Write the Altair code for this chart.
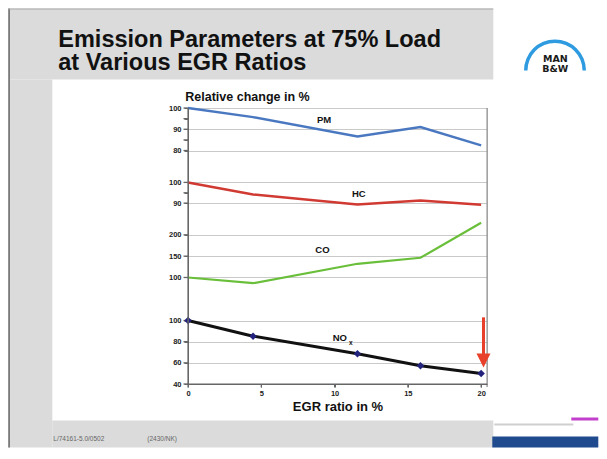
import altair as alt
import pandas as pd

FONT = "Liberation Sans"

# ---- data ----
egr = [0, 4.44, 11.56, 15.86, 20]
pm = [100, 95.7, 86.6, 91.0, 82.4]
hc = [100, 94.2, 89.3, 91.3, 89.2]
co = [100, 86.6, 132.1, 146.1, 228.1]
nox = [100, 85.2, 68.6, 57.2, 49.9]

pm_ticks = [100, 95, 90, 85, 80]
hc_ticks = [100, 95, 90]
co_ticks = [200, 150, 100]
nox_ticks = [100, 80, 60, 40]
x_ticks = [0, 5, 10, 15, 20]

series_labels = ["PM", "HC", "CO", "NO"]
label_x = [9.28, 11.65, 9.17, 10.36]
label_v = [94.4, 94.2, 164.9, 83.3]
sub_label = "x"
sub_x = 11.11
sub_v = 78.3

arrow_x = 20.16
arrow_top = 103
arrow_base = 66
arrow_head = 62.2

# ---- layout helpers (page pixel -> plot pixel) ----
OX, OY = 187.7, 107.5
W, H = 299, 276
AXIS_COLOR = "#666"


def px(v):
    return v - OX


def py(v):
    return v - OY


one = pd.DataFrame({"k": [0]})


def box(x1, x2, y1, y2, color):
    return alt.Chart(one).mark_rect(color=color).encode(
        x=alt.value(px(x1)), x2=alt.value(px(x2)),
        y=alt.value(py(y1)), y2=alt.value(py(y2)))


def pbox(x1, x2, y1, y2, color):
    # box given in plot pixel coordinates
    return alt.Chart(one).mark_rect(color=color).encode(
        x=alt.value(x1), x2=alt.value(x2), y=alt.value(y1), y2=alt.value(y2))


def note(text, x, y, size, color="#111", weight="bold", align="left",
         baseline="alphabetic", font=FONT):
    return alt.Chart(one).mark_text(
        text=text, fontSize=size, color=color, fontWeight=weight,
        align=align, baseline=baseline, font=font).encode(
        x=alt.value(px(x)), y=alt.value(py(y)))


x_axis = alt.Axis(values=x_ticks, title="EGR ratio in %", titleFontSize=13,
                  titleFontWeight="bold", titleColor="#111", titlePadding=4,
                  titleFont=FONT, labelFont=FONT,
                  labelFontSize=7.5, labelFontWeight="bold", labelColor="#222",
                  labelFlush=False, labelPadding=2, ticks=True, tickSize=3,
                  tickColor=AXIS_COLOR, tickWidth=1,
                  domain=True, domainColor=AXIS_COLOR, domainWidth=1,
                  grid=False, zindex=1)
X = alt.X("x:Q", scale=alt.Scale(domain=[0, 20.4], nice=False, zero=False),
          axis=x_axis)


def yaxis(ticks):
    return alt.Axis(
        orient="left", values=ticks, title=None, grid=True,
        gridColor="#c9c9c9", gridWidth=1,
        gridOpacity={"condition": {"test": "datum.value % 10 !== 0", "value": 0}, "value": 1},
        labelExpr="datum.value % 10 === 0 ? datum.label : ''",
        domain=True, domainColor=AXIS_COLOR, domainWidth=1,
        ticks=True, tickColor=AXIS_COLOR, tickSize=4, tickWidth=1,
        labelFont=FONT, labelFontSize=7.5, labelFontWeight="bold",
        labelColor="#222", labelPadding=3, labelFlush=False, labelOverlap=False)


def tick_marks(ticks, Y):
    return alt.Chart(pd.DataFrame({"v": ticks})).mark_rect(
        color=AXIS_COLOR, height=1.3).encode(x=alt.value(-4.5), x2=alt.value(0.5), y=Y)


def series(vals, color, width, domain, rng, ticks, idx):
    df = pd.DataFrame({"x": egr, "v": vals})
    Y = alt.Y("v:Q", scale=alt.Scale(domain=domain, range=rng, nice=False, zero=False),
              axis=yaxis(ticks))
    line = alt.Chart(df).mark_line(color=color, strokeWidth=width).encode(x=X, y=Y)
    lab = pd.DataFrame({"x": [label_x[idx]], "v": [label_v[idx]], "t": [series_labels[idx]]})
    txt = alt.Chart(lab).mark_text(fontSize=9.5, fontWeight="bold", color="#111",
                                   font=FONT).encode(x=X, y=Y, text="t:N")
    return alt.layer(tick_marks(ticks, Y), line, txt)


pm_layer = series(pm, "#4a78c0", 2.5, [72, 100], [59.5, 0], pm_ticks, 0)
hc_layer = series(hc, "#d03a32", 2.5, [84.5, 107.2], [106.5, 59.5], hc_ticks, 1)
co_layer = series(co, "#6abf3a", 2.2, [50.8, 247.5], [190.5, 106.5], co_ticks, 2)

# NOx with markers, subscript and arrow
nox_df = pd.DataFrame({"x": egr, "v": nox})
YN = alt.Y("v:Q", scale=alt.Scale(domain=[40, 120.8], range=[276, 190.5], nice=False, zero=False),
           axis=yaxis(nox_ticks))
nox_line = alt.Chart(nox_df).mark_line(color="#111", strokeWidth=3).encode(x=X, y=YN)
nox_pts = alt.Chart(nox_df).mark_point(shape="diamond", filled=True, size=55,
                                       color="#23237e", opacity=1).encode(x=X, y=YN)
nox_lab = alt.Chart(pd.DataFrame({"x": [label_x[3]], "v": [label_v[3]], "t": [series_labels[3]]})).mark_text(
    fontSize=9.5, fontWeight="bold", color="#111", font=FONT).encode(x=X, y=YN, text="t:N")
nox_sub = alt.Chart(pd.DataFrame({"x": [sub_x], "v": [sub_v], "t": [sub_label]})).mark_text(
    fontSize=6.5, fontWeight="bold", color="#111", font=FONT).encode(x=X, y=YN, text="t:N")
arrow_shaft = alt.Chart(pd.DataFrame({"x": [arrow_x], "v": [arrow_top], "v2": [arrow_base]})).mark_rule(
    color="#e8402a", strokeWidth=3).encode(x=X, y=YN, y2="v2:Q")
arrow_tip = alt.Chart(pd.DataFrame({"x": [arrow_x], "v": [arrow_head]})).mark_point(
    shape="M-1,-1L1,-1L0,1Z", filled=True, size=196, color="#e8402a", opacity=1).encode(x=X, y=YN)
nox_layer = alt.layer(tick_marks(nox_ticks, YN), nox_line, arrow_shaft, arrow_tip,
                      nox_pts, nox_lab, nox_sub)

# x-axis ticks and axis lines
x_tick_marks = alt.Chart(pd.DataFrame({"x": x_ticks})).mark_rect(
    color=AXIS_COLOR, width=1.2).encode(x=X, y=alt.value(H), y2=alt.value(H + 3.5))
y_axis_line = pbox(-0.6, 0.8, 0.01, H, AXIS_COLOR)
x_axis_line = pbox(-0.6, W, H - 0.6, H + 0.6, AXIS_COLOR)
right_border = pbox(W - 0.5, W + 0.7, 0.01, H + 3, "#8a8a8a")

# ---- slide decorations ----
decor = [
    box(8, 493, 8, 79, "#dbdbdb"),
    box(8, 52, 79, 447, "#dbdbdb"),
    box(52, 493, 420, 447, "#dbdbdb"),
    box(8, 9.6, 8, 447, "#707070"),
    box(8, 493, 8, 9, "#a8a8a8"),
    box(492, 598, 436, 447, "#1f4b8e"),
    box(494, 573, 423, 425, "#cfcfcf"),
    box(571, 598, 417, 420, "#c23fcc"),
]

logo_arc = alt.Chart(one).mark_arc(theta=4.71, theta2=7.85, radius=31, radius2=27.5,
                                   color="#2e9be0").encode(
    x=alt.value(px(554.7)), y=alt.value(py(70)))

texts = [
    note("Emission Parameters at 75% Load", 58, 46, 23.5),
    note("at Various EGR Ratios", 58, 69, 23.5),
    note("Relative change in %", 185, 100, 12.5),
    note("MAN", 555, 58, 9.5, color="#1a1a1a", align="center", baseline="middle", font="DejaVu Sans"),
    note("B&W", 555, 68, 9.5, color="#1a1a1a", align="center", baseline="middle", font="DejaVu Sans"),
    note("L/74161-5.0/0502", 53, 438, 6.5, color="#666", weight="normal", baseline="middle"),
    note("(2430/NK)", 147, 438, 6.5, color="#666", weight="normal", baseline="middle"),
]

chart = alt.layer(
    *decor, right_border, pm_layer, hc_layer, co_layer, nox_layer,
    x_tick_marks, x_axis_line, y_axis_line, logo_arc, *texts
).resolve_scale(y="independent").resolve_axis(y="independent").properties(
    width=W, height=H, padding=0
).configure_view(stroke=None).configure(font=FONT, background="white")

chart.save("out.html", embed_options={"renderer": "svg", "actions": False})
